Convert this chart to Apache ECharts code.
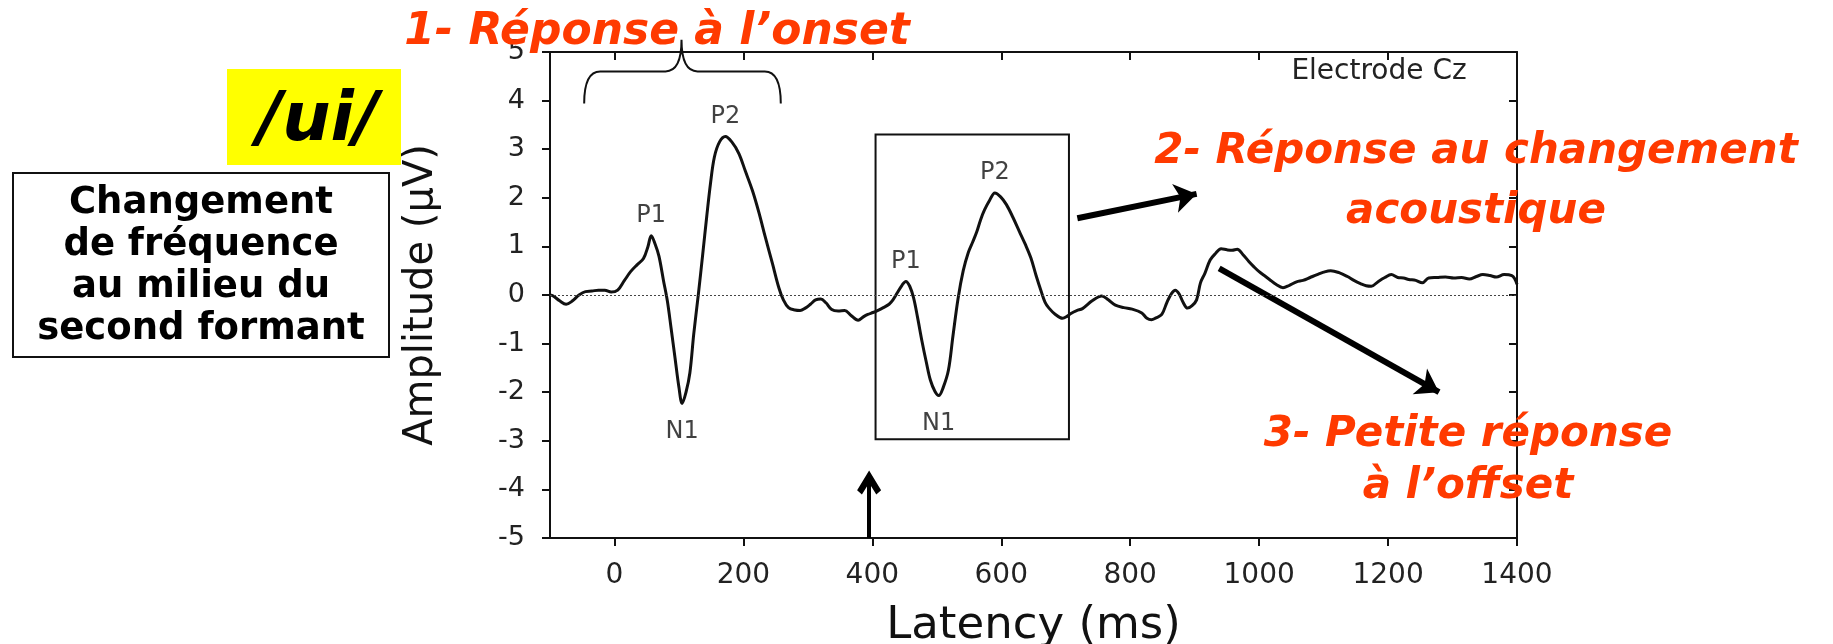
<!DOCTYPE html>
<html>
<head>
<meta charset="utf-8">
<script src="https://cdn.jsdelivr.net/npm/echarts@6.0.0/dist/echarts.min.js"></script>
<style>
html, body { margin: 0; padding: 0; background: #fff; }
#main { width: 1833px; height: 644px; }
</style>
</head>
<body>
<div id="main"></div>
<script>
// onde ERP (latence en ms, amplitude en µV)
var latency = [-100, -95, -85, -75, -65, -55, -45, -35, -25, -15, -5, 5, 15, 25, 35, 45, 52, 57, 63, 69,
    76, 82, 88, 94, 100, 105, 111, 117, 123, 130, 137, 143, 149, 155, 163, 172, 182, 193, 203, 214,
    224, 234, 245, 255, 262, 270, 280, 288, 296, 304, 312, 320, 328, 337, 347, 357, 367, 378, 386, 393,
    401, 408, 417, 426, 432, 439, 446, 452, 458, 464, 470, 477, 484, 490, 497, 503, 510, 518, 525, 533,
    541, 549, 556, 562, 568, 574, 582, 590, 599, 608, 618, 628, 637, 646, 654, 662, 668, 674, 684, 695,
    702, 708, 717, 726, 741, 756, 766, 777, 790, 803, 818, 826, 833, 840, 849, 857, 864, 870, 876, 882,
    889, 896, 903, 909, 916, 924, 932, 941, 950, 958, 966, 975, 984, 992, 1000, 1008, 1016, 1026, 1037, 1047,
    1058, 1068, 1079, 1090, 1100, 1111, 1124, 1137, 1147, 1158, 1166, 1174, 1185, 1195, 1205, 1215, 1224, 1232, 1243, 1253,
    1263, 1276, 1289, 1302, 1314, 1326, 1337, 1347, 1358, 1368, 1380, 1392, 1397, 1400];
var amplitude = [0.0, -0.02, -0.12, -0.19, -0.12, 0.0, 0.07, 0.08, 0.10, 0.10, 0.06, 0.10, 0.29, 0.48, 0.62, 0.75, 1.0, 1.22, 1.05, 0.8,
    0.3, -0.12, -0.7, -1.3, -1.9, -2.23, -2.0, -1.6, -0.8, 0.0, 0.85, 1.6, 2.3, 2.84, 3.15, 3.26, 3.15, 2.91, 2.55, 2.15,
    1.7, 1.19, 0.65, 0.15, -0.1, -0.26, -0.31, -0.32, -0.27, -0.19, -0.1, -0.08, -0.16, -0.30, -0.33, -0.32, -0.42, -0.52, -0.45, -0.40,
    -0.36, -0.32, -0.26, -0.19, -0.1, 0.05, 0.2, 0.28, 0.18, -0.06, -0.45, -0.95, -1.4, -1.75, -1.98, -2.07, -1.9, -1.55, -0.85, -0.07,
    0.5, 0.88, 1.1, 1.3, 1.55, 1.75, 1.95, 2.1, 2.02, 1.86, 1.6, 1.31, 1.05, 0.76, 0.4, 0.07, -0.15, -0.27, -0.4, -0.48,
    -0.44, -0.38, -0.32, -0.28, -0.12, -0.02, -0.1, -0.21, -0.26, -0.29, -0.37, -0.48, -0.51, -0.47, -0.40, -0.15, 0.03, 0.1, 0.02, -0.15,
    -0.27, -0.22, -0.1, 0.25, 0.45, 0.72, 0.85, 0.95, 0.93, 0.92, 0.94, 0.83, 0.69, 0.58, 0.48, 0.4, 0.32, 0.22, 0.15, 0.2,
    0.27, 0.3, 0.36, 0.42, 0.47, 0.5, 0.46, 0.38, 0.3, 0.23, 0.19, 0.18, 0.28, 0.36, 0.42, 0.36, 0.35, 0.32, 0.3, 0.25,
    0.35, 0.36, 0.37, 0.35, 0.36, 0.33, 0.38, 0.42, 0.4, 0.37, 0.42, 0.4, 0.32, 0.22];

var xTicks = [0, 200, 400, 600, 800, 1000, 1200, 1400];

// pics annotés
var peakNames = ['P1', 'P2', 'N1', 'P1', 'P2', 'N1'];
var peakLatency = [57, 172, 105, 452, 590, 503];
var peakAmplitude = [1.22, 3.26, -2.23, 0.28, 2.1, -2.07];

// cadre autour de la réponse au changement
var boxLatency = [405, 705];
var boxAmplitude = [-2.97, 3.3];

// accolade au-dessus de l'onset : gauche, pointe, droite, bas, palier, pointe
var brace = [-47, 104, 258, 3.94, 4.6, 5.25];

// flèches épaisses (début -> fin) et flèche du changement à 400 ms
var arrowFrom = [[718, 1.58], [938, 0.55]];
var arrowTo = [[903, 2.08], [1279, -2.0]];
var onsetArrow = [[395, -5], [395, -3.86]];

var font = 'DejaVu Sans';
var red = '#ff3a00';

var myChart = echarts.init(document.getElementById('main'));

var curve = [];
for (var i = 0; i < latency.length; i++) {
    curve.push([latency[i], amplitude[i]]);
}
var peaks = [];
for (var j = 0; j < peakNames.length; j++) {
    peaks.push({
        name: peakNames[j],
        value: [peakLatency[j], peakAmplitude[j]],
        label: peakAmplitude[j] < 0 ? { position: 'bottom', distance: 16 } : { position: 'top', distance: 8 }
    });
}
var arrows = [];
for (var k = 0; k < arrowFrom.length; k++) {
    arrows.push({ coords: [arrowFrom[k], arrowTo[k]] });
}

function renderBrace(params, api) {
    var l = api.coord([api.value(0), api.value(3)]);
    var m = api.coord([api.value(1), api.value(5)]);
    var r = api.coord([api.value(2), api.value(3)]);
    var h = api.coord([api.value(0), api.value(4)])[1];
    var rad = 16;
    var d = 'M' + l[0] + ',' + l[1] +
        ' Q' + l[0] + ',' + h + ' ' + (l[0] + rad) + ',' + h +
        ' L' + (m[0] - rad) + ',' + h +
        ' Q' + m[0] + ',' + h + ' ' + m[0] + ',' + m[1] +
        ' Q' + m[0] + ',' + h + ' ' + (m[0] + rad) + ',' + h +
        ' L' + (r[0] - rad) + ',' + h +
        ' Q' + r[0] + ',' + h + ' ' + r[0] + ',' + r[1];
    return {
        type: 'path',
        shape: { pathData: d },
        style: { fill: null, stroke: '#111', lineWidth: 2 }
    };
}

var axisBlack = { onZero: false, lineStyle: { color: '#111', width: 2 } };

option = {
    backgroundColor: '#fff',
    animation: false,
    grid: { left: 550, right: 316, top: 52, bottom: 106, outerBoundsMode: 'none', containLabel: false },
    xAxis: [{
        type: 'value',
        min: -100,
        max: 1400,
        position: 'bottom',
        axisLine: axisBlack,
        axisTick: { customValues: xTicks, length: 8, lineStyle: { color: '#111', width: 2 } },
        axisLabel: {
            customValues: xTicks, fontSize: 28, fontFamily: font, color: '#222', margin: 24,
            formatter: function (v) { return String(v); }
        },
        splitLine: { show: false },
        name: 'Latency (ms)',
        nameLocation: 'middle',
        nameGap: 66,
        nameTextStyle: { fontSize: 45, fontFamily: font, color: '#111' }
    }, {
        type: 'value',
        min: -100,
        max: 1400,
        position: 'top',
        axisLine: axisBlack,
        axisTick: { customValues: xTicks, inside: true, length: 8, lineStyle: { color: '#111', width: 2 } },
        axisLabel: { show: false },
        splitLine: { show: false }
    }],
    yAxis: [{
        type: 'value',
        min: -5,
        max: 5,
        interval: 1,
        position: 'left',
        axisLine: axisBlack,
        axisTick: { length: 8, lineStyle: { color: '#111', width: 2 } },
        axisLabel: { fontSize: 27, fontFamily: font, color: '#222', margin: 25 },
        splitLine: { show: false },
        name: 'Amplitude (μV)',
        nameLocation: 'middle',
        nameGap: 108,
        nameTextStyle: { fontSize: 40, fontFamily: font, color: '#111' }
    }, {
        type: 'value',
        min: -5,
        max: 5,
        interval: 1,
        position: 'right',
        axisLine: axisBlack,
        axisTick: { inside: true, length: 8, lineStyle: { color: '#111', width: 2 } },
        axisLabel: { show: false },
        splitLine: { show: false }
    }],
    series: [{
        type: 'line',
        name: 'Cz',
        data: curve,
        smooth: 0.35,
        showSymbol: false,
        lineStyle: { color: '#111', width: 3 },
        markLine: {
            silent: true,
            symbol: 'none',
            label: { show: false },
            lineStyle: { color: '#444', width: 1, type: [2, 2] },
            data: [{ yAxis: 0 }]
        },
        markArea: {
            silent: true,
            itemStyle: { color: 'rgba(0,0,0,0)', borderColor: '#111', borderWidth: 2 },
            data: [[{ coord: [boxLatency[0], boxAmplitude[1]] }, { coord: [boxLatency[1], boxAmplitude[0]] }]]
        }
    }, {
        type: 'scatter',
        data: peaks,
        symbolSize: 0,
        label: {
            show: true,
            formatter: '{b}',
            fontSize: 24,
            fontFamily: font,
            color: '#111'
        }
    }, {
        type: 'lines',
        coordinateSystem: 'cartesian2d',
        data: arrows,
        symbol: ['none', 'arrow'],
        symbolSize: 22,
        lineStyle: { color: '#000', width: 6, opacity: 1, curveness: 0 }
    }, {
        type: 'lines',
        coordinateSystem: 'cartesian2d',
        data: [{ coords: onsetArrow }],
        symbol: ['none', 'path://M5,0 L10,7 L8,8.6 L5,4.4 L2,8.6 L0,7 Z'],
        symbolSize: 24,
        lineStyle: { color: '#000', width: 4, opacity: 1, curveness: 0 }
    }, {
        type: 'custom',
        clip: false,
        renderItem: renderBrace,
        data: [brace],
        z: 5
    }],
    graphic: [{
        type: 'text',
        x: 657, y: 33,
        style: {
            text: '1- Réponse à l’onset',
            fill: red,
            font: 'italic bold 44px "DejaVu Sans"',
            textAlign: 'center',
            textVerticalAlign: 'middle'
        },
        z: 100
    }, {
        type: 'text',
        x: 1476, y: 182,
        style: {
            text: '2- Réponse au changement\nacoustique',
            fill: red,
            font: 'italic bold 42px "DejaVu Sans"',
            lineHeight: 60,
            textAlign: 'center',
            textVerticalAlign: 'middle'
        },
        z: 100
    }, {
        type: 'text',
        x: 1468, y: 461,
        style: {
            text: '3- Petite réponse\nà l’offset',
            fill: red,
            font: 'italic bold 42px "DejaVu Sans"',
            lineHeight: 52,
            textAlign: 'center',
            textVerticalAlign: 'middle'
        },
        z: 100
    }, {
        type: 'text',
        x: 1379, y: 72,
        style: {
            text: 'Electrode Cz',
            fill: '#222',
            font: '28px "DejaVu Sans"',
            textAlign: 'center',
            textVerticalAlign: 'middle'
        },
        z: 100
    }, {
        type: 'rect',
        shape: { x: 227, y: 69, width: 174, height: 96 },
        style: { fill: '#ffff00' },
        z: 100
    }, {
        type: 'text',
        x: 318, y: 122,
        style: {
            text: '/ui/',
            fill: '#000',
            font: 'italic bold 68px "DejaVu Sans"',
            textAlign: 'center',
            textVerticalAlign: 'middle'
        },
        z: 101
    }, {
        type: 'rect',
        shape: { x: 13, y: 173, width: 376, height: 184 },
        style: { fill: '#fff', stroke: '#111', lineWidth: 2 },
        z: 100
    }, {
        type: 'text',
        x: 201, y: 266,
        style: {
            text: 'Changement\nde fréquence\nau milieu du\nsecond formant',
            fill: '#000',
            font: 'bold 37px "DejaVu Sans"',
            lineHeight: 42,
            textAlign: 'center',
            textVerticalAlign: 'middle'
        },
        z: 101
    }]
};

myChart.setOption(option);
</script>
</body>
</html>
